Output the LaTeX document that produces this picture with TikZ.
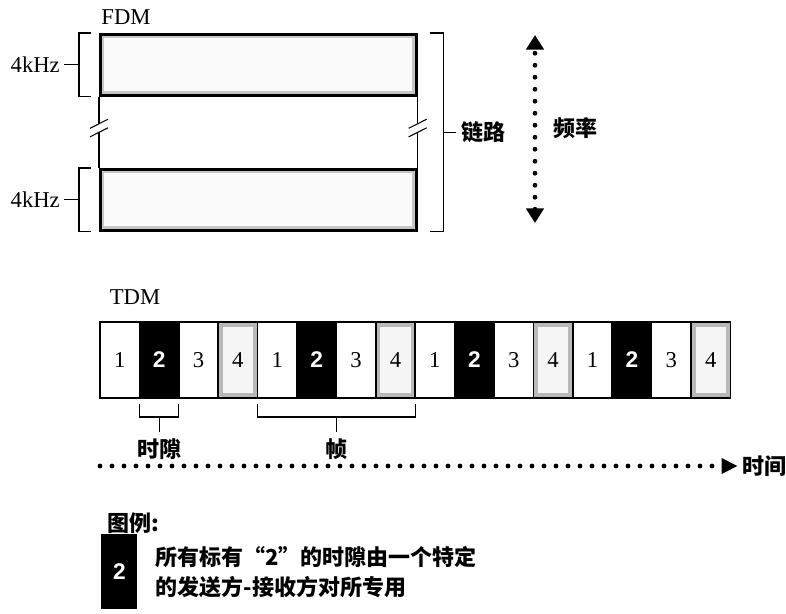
\documentclass[tikz,border=0pt]{standalone}
\usepackage{fontspec}
\setmainfont{Liberation Serif}
\setsansfont{Liberation Sans}
\newfontfamily\cjk{Noto Sans CJK SC}
\usetikzlibrary{arrows.meta, positioning, calc}
\tikzset{
  band/.style={draw, line width=2pt, minimum width=237pt, minimum height=45.75pt,
    anchor=north west, fill=gray!4, path picture={
      \draw[gray!45, line width=6pt] (path picture bounding box.south west) rectangle (path picture bounding box.north east);}},
  slot/.style={draw, line width=1.2pt, minimum width=29.55pt, minimum height=57pt,
    inner sep=0pt, outer sep=0pt, anchor=north west, fill=white, font=\fontsize{17}{20}\selectfont},
  dark/.style={fill=black, text=white, font=\fontsize{17}{20}\selectfont\sffamily\bfseries},
  grainy/.style={fill=gray!8, path picture={
      \draw[gray!55, line width=7pt] (path picture bounding box.south west) rectangle (path picture bounding box.north east);}},
  brace/.style={line width=0.8pt},
  dots/.style={line width=3.6pt, line cap=round, dash pattern=on 0pt off 9pt},
  lbl/.style={font=\fontsize{17}{20}\selectfont, inner sep=3pt},
  clbl/.style={font=\cjk\bfseries\fontsize{16.5}{22.5}\selectfont, inner sep=3pt}
}
\begin{document}
\begin{tikzpicture}[x=0.75pt, y=-0.75pt]
  \useasboundingbox (0,0) rectangle (786,614);
  % FDM
  \node[lbl] (fdm) at (126,17) {FDM};
  \node[band] (b1) at (99,33) {};
  \node[band] (b2) at (99,168) {};
  \coordinate (lk1) at ($(b1.south west)!0.38!(b2.north west)$);
  \coordinate (lk2) at ($(b1.south west)!0.5!(b2.north west)$);
  \coordinate (rk1) at ($(b1.south east)!0.38!(b2.north east)$);
  \coordinate (rk2) at ($(b1.south east)!0.5!(b2.north east)$);
  \draw[brace] (b1.south west) -- (lk1) (lk2) -- (b2.north west);
  \draw[brace] (b1.south east) -- (rk1) (rk2) -- (b2.north east);
  \foreach \k in {lk1,lk2,rk1,rk2}
    \draw[brace] ([shift={(-6.75pt,-3.4pt)}]\k) -- ([shift={(6.75pt,3.4pt)}]\k);
  \foreach \b in {b1,b2} {
    \draw[brace] ([xshift=-6pt]\b.north west) -- ([xshift=-15pt]\b.north west)
      -- ([xshift=-15pt]\b.south west) -- ([xshift=-6pt]\b.south west);
    \draw[brace] ([xshift=-15pt]\b.west) -- ++(-11pt,0) node[left, lbl] (k\b) {4kHz};
  }
  \draw[brace] ([xshift=9pt]b1.north east) -- ([xshift=19.5pt]b1.north east) coordinate (rt)
    -- ([xshift=19.5pt]b2.south east) coordinate (rb) -- ([xshift=9pt]b2.south east);
  \draw[brace] ($(rt)!0.5!(rb)$) -- ++(9pt,0) node[right, clbl, inner sep=4pt] (link) {链路};
  \coordinate (ftop) at (535,35);
  \coordinate (fbot) at (535,223);
  \draw[dots, {Triangle[width=13pt,length=11pt]}-{Triangle[width=13pt,length=11pt]}] (fbot) -- (ftop);
  \node[clbl] (freq) at (575,128) {频率};
  %
  % TDM
  \node[lbl] (tdm) at (135,297) {TDM};
  \foreach \f in {0,...,3} {
    \node[slot] (a\f) at ({100+157.6*\f},322) {1};
    \node[slot, dark, right=0pt of a\f] (b\f) {2};
    \node[slot, right=0pt of b\f] (c\f) {3};
    \node[slot, grainy, right=0pt of c\f] (d\f) {4};
  }
  \draw[brace] ([yshift=-4.5pt]b0.south west) -- ++(0,-9.75pt) -| ([yshift=-4.5pt]b0.south east);
  \draw[brace] ([yshift=-14.25pt]b0.south) -- ++(0,-11pt) node[below, clbl, yshift=-2pt] (slotlbl) {时隙};
  \draw[brace] ([yshift=-4.5pt]a1.south west) -- ++(0,-9.75pt) -| ([yshift=-4.5pt]d1.south east);
  \draw[brace] ($([yshift=-14.25pt]a1.south west)!0.5!([yshift=-14.25pt]d1.south east)$) -- ++(0,-11pt)
    node[below, clbl, yshift=-2pt] (framelbl) {帧};
  \coordinate (t0) at (100,466);
  \node[clbl] (time) at (764,466) {时间};
  \draw[dots, -{Triangle[width=11pt,length=12pt]}] (t0) -- (time.west);
  %
  % legend
  \node[clbl, anchor=west] (legend) at (103,523) {图例:};
  \node[slot, dark, minimum width=26pt, minimum height=55pt] (key) at (102,535) {2};
  \node[clbl, right=11pt of key, align=left] (keytxt) {所有标有“2”的时隙由一个特定\\的发送方-接收方对所专用};
\end{tikzpicture}
\end{document}
